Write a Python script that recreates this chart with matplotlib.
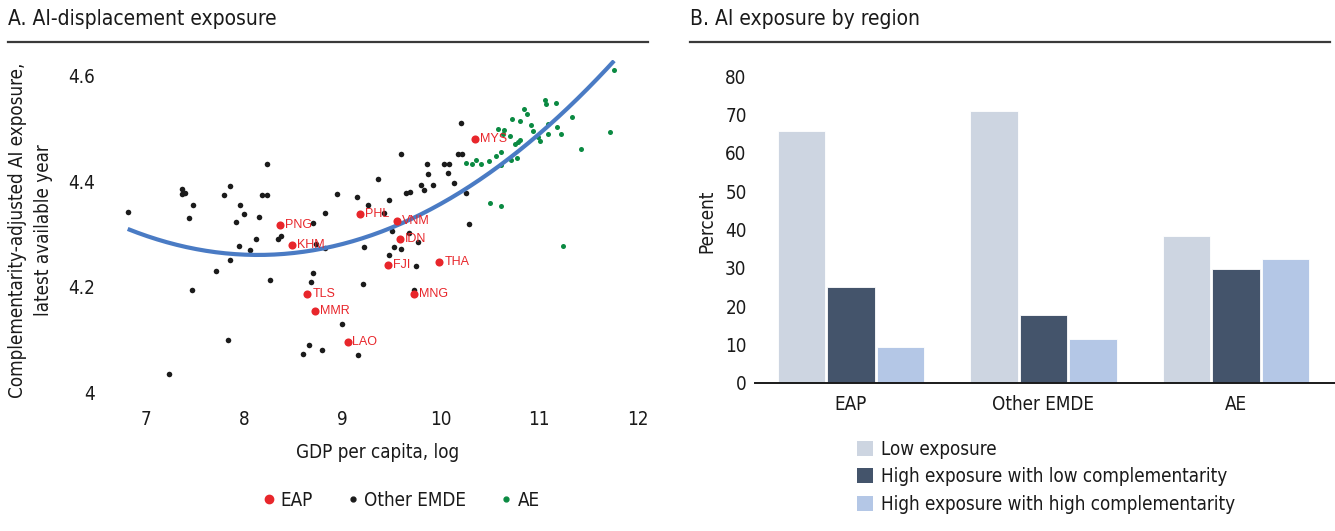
import numpy as np
import matplotlib
matplotlib.use("Agg")
import matplotlib.pyplot as plt
from matplotlib.lines import Line2D
from matplotlib.patches import Patch
from matplotlib.ticker import FormatStrFormatter

plt.rcParams['font.family'] = ['DejaVu Sans']
plt.rcParams['font.stretch'] = 'condensed'

# ---- Panel A data: log GDP per capita vs complementarity-adjusted AI exposure
eap_codes = ["PNG", "KHM", "PHL", "VNM", "IDN", "FJI", "THA", "MNG", "TLS", "MMR", "LAO", "MYS"]
eap_x = [8.366, 8.488, 9.175, 9.557, 9.581, 9.459, 9.984, 9.729, 8.641, 8.717, 9.050, 10.344]
eap_y = [4.317, 4.279, 4.337, 4.325, 4.291, 4.242, 4.246, 4.187, 4.186, 4.154, 4.095, 4.481]

emde_x = [6.814, 8.231, 7.363, 7.363, 7.397, 7.855, 7.797, 7.478, 7.440, 7.959,
          8.000, 7.919, 8.146, 8.180, 8.234, 9.363, 8.946, 9.150, 9.261, 9.475,
          8.818, 9.424, 8.696, 9.500, 8.346, 8.373, 8.122, 7.943, 8.061, 7.851,
          7.715, 8.258, 8.818, 9.218, 9.520, 9.469, 8.702, 8.682, 9.208, 7.468,
          8.997, 7.831, 8.661, 8.594, 8.794, 9.154, 7.237, 10.208, 9.597, 10.177,
          10.212, 9.856, 10.035, 10.082, 9.869, 10.069, 9.795, 9.828, 9.923, 10.130,
          9.645, 9.689, 10.252, 10.286, 9.676, 9.770, 9.597, 8.729, 9.744, 9.729]
emde_y = [4.342, 4.433, 4.385, 4.375, 4.377, 4.391, 4.373, 4.355, 4.330, 4.354,
          4.337, 4.323, 4.332, 4.373, 4.373, 4.405, 4.375, 4.370, 4.355, 4.364,
          4.340, 4.339, 4.320, 4.306, 4.291, 4.296, 4.290, 4.277, 4.269, 4.251,
          4.230, 4.213, 4.274, 4.275, 4.275, 4.261, 4.225, 4.209, 4.206, 4.194,
          4.130, 4.099, 4.089, 4.072, 4.079, 4.071, 4.035, 4.510, 4.452, 4.451,
          4.451, 4.432, 4.433, 4.433, 4.413, 4.416, 4.392, 4.383, 4.392, 4.396,
          4.377, 4.380, 4.377, 4.318, 4.302, 4.285, 4.272, 4.281, 4.239, 4.194]

ae_x = [10.258, 10.313, 10.354, 10.408, 10.492, 10.564, 10.614, 10.608, 10.581, 10.645,
        10.632, 10.706, 10.720, 10.802, 10.842, 10.876, 10.914, 10.934, 10.751, 10.781,
        10.808, 10.710, 10.774, 10.988, 11.008, 11.059, 11.072, 11.168, 11.090, 11.090,
        11.184, 11.219, 11.337, 11.428, 11.723, 11.761, 10.502, 10.608, 11.245]
ae_y = [4.435, 4.433, 4.441, 4.433, 4.438, 4.448, 4.455, 4.431, 4.499, 4.497,
        4.489, 4.486, 4.518, 4.514, 4.537, 4.527, 4.506, 4.495, 4.471, 4.475,
        4.478, 4.440, 4.444, 4.484, 4.476, 4.554, 4.547, 4.549, 4.508, 4.489,
        4.502, 4.489, 4.522, 4.461, 4.493, 4.611, 4.359, 4.353, 4.277]

# Quadratic trend line coefficients (highest power first)
trend_coefs = [0.02808, -0.4571, 6.1204]
trend_range = [6.814, 11.761]

xticks_a = [7, 8, 9, 10, 11, 12]
yticks_a = [4.0, 4.2, 4.4, 4.6]

# ---- Panel B data: share of employment by exposure category (percent)
regions = ["EAP", "Other EMDE", "AE"]
series_names = ["Low exposure",
                "High exposure with low complementarity",
                "High exposure with high complementarity"]
low_exposure = [65.7, 70.9, 38.3]
high_low_comp = [24.9, 17.6, 29.6]
high_high_comp = [9.5, 11.5, 32.2]
yticks_b = [0, 10, 20, 30, 40, 50, 60, 70, 80]

# ---- Styling
RED = "#e8262b"
BLACK = "#1b1b1b"
GREEN = "#0b8a42"
BLUE = "#4a7bc4"
BAR_COLORS = ["#cdd5e1", "#44546b", "#b4c7e6"]
TEXT = "#1a1a1a"
FS = 13.5

W, H = 1335, 531
fig = plt.figure(figsize=(W / 100, H / 100), dpi=100)


def fx(px):
    return px / W


def fy(py):
    return 1 - py / H


# Panel titles and rules
fig.text(fx(8), fy(19), "A. AI-displacement exposure", fontsize=15, color=TEXT, va="center")
fig.text(fx(690), fy(19), "B. AI exposure by region", fontsize=15, color=TEXT, va="center")
for x0, x1 in [(8, 648), (690, 1330)]:
    fig.add_artist(Line2D([fx(x0), fx(x1)], [fy(42), fy(42)], color="#3a3a3a", lw=1.6))

# ---- Panel A
axA = fig.add_axes([fx(110), fy(400), fx(645) - fx(110), fy(60) - fy(400)])
axA.set_xlim(6.634, 12.075)
axA.set_ylim(3.985, 4.630)
for s in axA.spines.values():
    s.set_visible(False)
axA.tick_params(axis="x", length=0, labelsize=FS, colors=TEXT, pad=7)
axA.tick_params(axis="y", length=0, labelsize=FS, colors=TEXT, pad=11)
axA.set_xticks(xticks_a)
axA.set_yticks(yticks_a)
axA.yaxis.set_major_formatter(FormatStrFormatter("%g"))

axA.scatter(emde_x, emde_y, s=16, color=BLACK, zorder=3, linewidths=0)
axA.scatter(ae_x, ae_y, s=13, color=GREEN, zorder=3, linewidths=0)
xs = np.linspace(trend_range[0], trend_range[1], 200)
axA.plot(xs, np.polyval(trend_coefs, xs), color=BLUE, lw=3, zorder=4, solid_capstyle="butt")
axA.scatter(eap_x, eap_y, s=34, color=RED, zorder=5, linewidths=0)
for code, x, y in zip(eap_codes, eap_x, eap_y):
    axA.annotate(code, (x, y), xytext=(3.5, 0), textcoords="offset points",
                 va="center", ha="left", fontsize=9, color=RED,
                 family=["Liberation Sans", "DejaVu Sans"], fontstretch="normal", zorder=6)

axA.set_xlabel("GDP per capita, log", fontsize=FS, color=TEXT, labelpad=10)
axA.set_ylabel("Complementarity-adjusted AI exposure,\nlatest available year",
               fontsize=FS, color=TEXT, labelpad=11, linespacing=1.45)

handlesA = [
    Line2D([], [], ls="none", marker="o", ms=6, color=RED),
    Line2D([], [], ls="none", marker="o", ms=3.5, color=BLACK),
    Line2D([], [], ls="none", marker="o", ms=3.5, color=GREEN),
]
fig.legend(handlesA, ["EAP", "Other EMDE", "AE"], loc="center",
           bbox_to_anchor=(fx(402), fy(500)), ncol=3, frameon=False,
           fontsize=FS, handlelength=0.5, handletextpad=0.35, columnspacing=1.9,
           labelcolor=TEXT)

# ---- Panel B
axB = fig.add_axes([fx(755), fy(383), fx(1335) - fx(755), fy(60) - fy(383)])
cats = np.arange(len(regions))
step = 49.4 / 192.5
bw = 47.5 / 192.5
for k, vals in enumerate([low_exposure, high_low_comp, high_high_comp]):
    axB.bar(cats + (k - 1) * step, vals, width=bw, color=BAR_COLORS[k],
            edgecolor="white", linewidth=0.6, label=series_names[k], zorder=2)
axB.set_xlim(-0.499, 2.515)
axB.set_ylim(0, 84.2)
axB.set_yticks(yticks_b)
axB.set_xticks(cats)
axB.set_xticklabels(regions)
for name, s in axB.spines.items():
    s.set_visible(name == "bottom")
axB.spines["bottom"].set_color("#1a1a1a")
axB.spines["bottom"].set_linewidth(1.4)
axB.tick_params(axis="y", length=0, labelsize=FS, colors=TEXT, pad=6)
axB.tick_params(axis="x", length=0, labelsize=FS, colors=TEXT, pad=9)
axB.set_ylabel("Percent", fontsize=FS, color=TEXT, labelpad=6)

handlesB = [Patch(facecolor=c, edgecolor="none") for c in BAR_COLORS]
fig.legend(handlesB, series_names, loc="upper left",
           bbox_to_anchor=(fx(840), fy(423)), frameon=False, fontsize=FS,
           handlelength=0.85, handleheight=0.85, handletextpad=0.45,
           labelspacing=0.45, labelcolor=TEXT)

fig.savefig("out.png", dpi=100, facecolor="white")
